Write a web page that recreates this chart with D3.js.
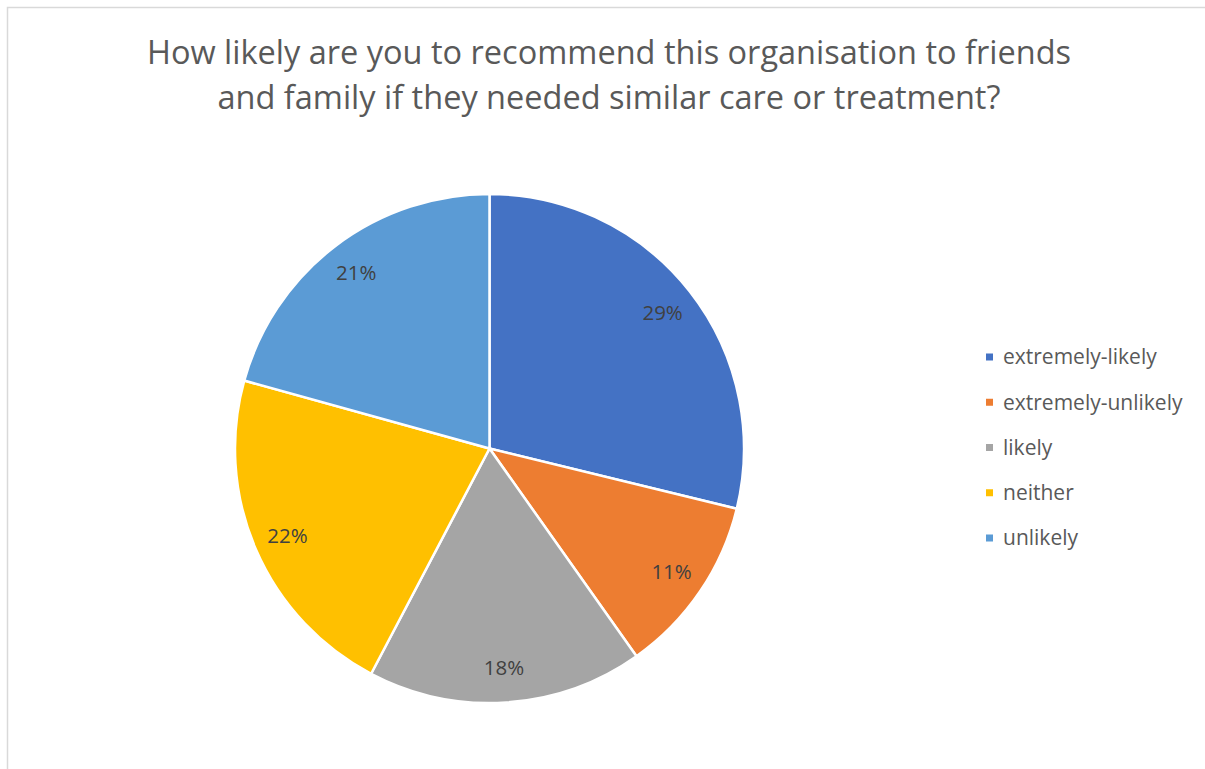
<!DOCTYPE html>
<html>
<head>
<meta charset="utf-8">
<script src="https://cdn.jsdelivr.net/npm/d3@7"></script>
<style>
  html, body { margin: 0; padding: 0; background: #fff; }
  svg { display: block; }
</style>
</head>
<body>
<svg id="chart" width="1205" height="769"></svg>
<script>
// Survey responses (share of respondents, %)
const categories = ["extremely-likely", "extremely-unlikely", "likely", "neither", "unlikely"];
const shares = [28.8, 11.4, 17.5, 21.6, 20.7];
const colors = ["#4472C4", "#ED7D31", "#A5A5A5", "#FFC000", "#5B9BD5"];
const titleLines = [
  "How likely are you to recommend this organisation to friends",
  "and family if they needed similar care or treatment?"
];

const font = "'Open Sans', Lato, sans-serif";
const svg = d3.select("#chart");

// chart frame
svg.append("rect")
  .attr("x", 7.5).attr("y", 7.5)
  .attr("width", 1210).attr("height", 780)
  .attr("fill", "#fff")
  .attr("stroke", "#d9d9d9").attr("stroke-width", 1.5);

// title
svg.append("g").selectAll("text")
  .data(titleLines)
  .join("text")
  .attr("x", 609)
  .attr("y", (d, i) => 64 + i * 44.5)
  .attr("text-anchor", "middle")
  .attr("font-family", font)
  .attr("font-size", 32.5)
  .attr("fill", "#595959")
  .text(d => d);

// pie
const cx = 489.5, cy = 448.5, radius = 254.5;
const total = d3.sum(shares);
const data = categories.map((c, i) => ({ cat: c, value: shares[i], color: colors[i] }));

const pie = d3.pie().value(d => d.value).sort(null);
const arc = d3.arc().innerRadius(0).outerRadius(radius);
const labelArc = d3.arc().innerRadius(radius * 0.865).outerRadius(radius * 0.865);

const g = svg.append("g").attr("transform", `translate(${cx},${cy})`);
const arcs = pie(data);

g.selectAll("path")
  .data(arcs)
  .join("path")
  .attr("d", arc)
  .attr("fill", d => d.data.color)
  .attr("stroke", "#fff")
  .attr("stroke-width", 2.5)
  .attr("stroke-linejoin", "round");

g.selectAll("text.label")
  .data(arcs)
  .join("text")
  .attr("class", "label")
  .attr("transform", d => `translate(${labelArc.centroid(d)})`)
  .attr("text-anchor", "middle")
  .attr("dy", "0.35em")
  .attr("font-family", font)
  .attr("font-size", 20.5)
  .attr("fill", "#404040")
  .text(d => Math.round(d.data.value / total * 100) + "%");

// legend
const legendY = d3.scalePoint().domain(categories).range([357, 538]);
const legend = svg.append("g").selectAll("g")
  .data(data)
  .join("g")
  .attr("transform", d => `translate(986,${legendY(d.cat)})`);

legend.append("rect")
  .attr("x", 0).attr("y", -3.5)
  .attr("width", 7).attr("height", 7)
  .attr("fill", d => d.color);

legend.append("text")
  .attr("x", 17)
  .attr("dy", "0.35em")
  .attr("font-family", font)
  .attr("font-size", 21)
  .attr("fill", "#595959")
  .text(d => d.cat);
</script>
</body>
</html>
